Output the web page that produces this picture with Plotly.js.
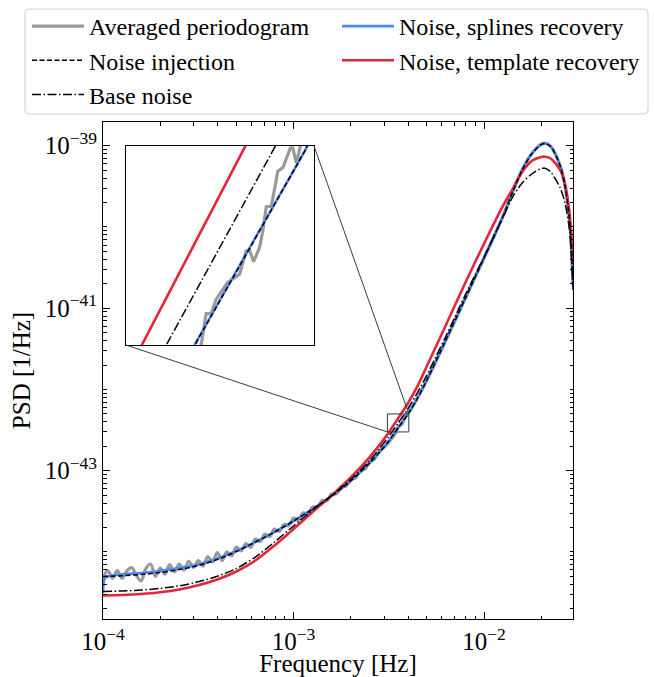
<!DOCTYPE html>
<html><head><meta charset="utf-8">
<script src="https://cdn.plot.ly/plotly-3.0.1.min.js"></script>
<style>html,body{margin:0;padding:0;background:#fff;} #chart{width:654px;height:677px;}</style>
</head><body><div id="chart"></div>
<script>
// ---- data ----
const freq = [1.000e-4, 1.259e-4, 1.585e-4, 1.995e-4, 2.512e-4, 3.162e-4, 3.981e-4, 5.012e-4, 6.310e-4, 7.943e-4,
  1.000e-3, 1.259e-3, 1.585e-3, 1.995e-3, 2.512e-3, 2.818e-3, 3.162e-3, 3.548e-3, 3.981e-3, 4.467e-3,
  5.012e-3, 6.310e-3, 7.943e-3, 1.000e-2, 1.259e-2, 1.413e-2, 1.585e-2, 1.778e-2, 1.995e-2, 2.089e-2,
  2.239e-2, 2.512e-2, 2.661e-2, 2.818e-2, 2.931e-2];
const injection = [4.99e-45, 5.10e-45, 5.28e-45, 5.58e-45, 6.08e-45, 6.81e-45, 8.07e-45, 1.013e-44, 1.326e-44, 1.760e-44,
  2.404e-44, 3.378e-44, 4.884e-44, 7.468e-44, 1.244e-43, 1.671e-43, 2.320e-43, 3.392e-43, 4.945e-43, 7.745e-43,
  1.307e-42, 4.061e-42, 1.298e-41, 4.148e-41, 1.364e-40, 2.693e-40, 5.022e-40, 7.904e-40, 1.034e-39, 1.064e-39,
  9.775e-40, 5.625e-40, 3.192e-40, 1.151e-40, 1.930e-41];
const baseNoise = [3.261e-45, 3.308e-45, 3.402e-45, 3.559e-45, 3.832e-45, 4.291e-45, 5.029e-45, 6.256e-45, 8.667e-45, 1.326e-44,
  2.086e-44, 3.284e-44, 4.952e-44, 7.794e-44, 1.335e-43, 1.862e-43, 2.628e-43, 3.886e-43, 5.747e-43, 9.10e-43,
  1.506e-42, 4.548e-42, 1.433e-41, 4.267e-41, 1.326e-40, 2.337e-40, 3.475e-40, 4.485e-40, 5.241e-40, 5.27e-40,
  4.746e-40, 3.016e-40, 1.971e-40, 8.667e-41, 1.675e-41];
const template = [2.911e-45, 2.952e-45, 3.037e-45, 3.187e-45, 3.450e-45, 3.886e-45, 4.580e-45, 5.747e-45, 7.847e-45, 1.200e-44,
  1.916e-44, 3.103e-44, 4.952e-44, 8.248e-44, 1.474e-43, 2.054e-43, 2.944e-43, 4.446e-43, 6.714e-43, 1.089e-42,
  1.944e-42, 6.213e-42, 2.014e-41, 6.221e-41, 1.826e-40, 2.931e-40, 4.746e-40, 6.481e-40, 7.261e-40, 7.323e-40,
  6.958e-40, 5.022e-40, 3.378e-40, 1.403e-40, 3.703e-41];
const splineFreq = [1.000e-4, 1.0046e-4, 1.0116e-4, 1.0233e-4, 1.0471e-4, 1.122e-4, 1.259e-4, 1.585e-4, 1.995e-4, 2.512e-4,
  3.162e-4, 3.981e-4, 5.012e-4, 6.310e-4, 7.943e-4, 1.000e-3, 1.259e-3, 1.585e-3, 1.995e-3, 2.512e-3,
  2.818e-3, 3.162e-3, 3.548e-3, 3.981e-3, 4.467e-3, 5.012e-3, 6.310e-3, 7.943e-3, 1.000e-2, 1.259e-2,
  1.413e-2, 1.585e-2, 1.778e-2, 1.995e-2, 2.089e-2, 2.239e-2, 2.512e-2, 2.661e-2, 2.818e-2, 2.931e-2];
const splines = [3.124e-45, 3.810e-45, 4.389e-45, 4.712e-45, 4.917e-45, 5.129e-45, 5.307e-45, 5.507e-45, 5.829e-45, 6.345e-45,
  7.006e-45, 8.305e-45, 1.027e-44, 1.326e-44, 1.760e-44, 2.404e-44, 3.378e-44, 4.884e-44, 7.468e-44, 1.244e-43,
  1.671e-43, 2.320e-43, 3.392e-43, 4.945e-43, 7.745e-43, 1.307e-42, 4.061e-42, 1.298e-41, 4.148e-41, 1.364e-40,
  2.693e-40, 5.022e-40, 7.904e-40, 1.034e-39, 1.064e-39, 9.775e-40, 5.625e-40, 3.192e-40, 1.151e-40, 1.930e-41];
const periodFreq = [1.000e-4, 1.059e-4, 1.122e-4, 1.189e-4, 1.259e-4, 1.334e-4, 1.413e-4, 1.496e-4, 1.585e-4, 1.679e-4,
  1.778e-4, 1.884e-4, 1.995e-4, 2.113e-4, 2.239e-4, 2.371e-4, 2.512e-4, 2.661e-4, 2.818e-4, 2.985e-4,
  3.162e-4, 3.350e-4, 3.548e-4, 3.758e-4, 3.981e-4, 4.217e-4, 4.467e-4, 4.732e-4, 5.012e-4, 5.309e-4,
  5.623e-4, 5.957e-4, 6.310e-4, 6.683e-4, 7.079e-4, 7.499e-4, 7.943e-4, 8.414e-4, 8.913e-4, 9.441e-4,
  1.000e-3, 1.059e-3, 1.122e-3, 1.189e-3, 1.259e-3, 1.334e-3, 1.413e-3, 1.496e-3, 1.585e-3, 1.679e-3,
  1.778e-3, 1.884e-3, 1.995e-3, 2.113e-3, 2.239e-3, 2.371e-3, 2.512e-3, 2.661e-3, 2.818e-3, 2.985e-3,
  3.441e-3, 3.449e-3, 3.473e-3, 3.497e-3, 3.521e-3, 3.578e-3, 3.637e-3, 3.670e-3, 3.687e-3, 3.708e-3,
  3.739e-3, 3.755e-3, 3.773e-3, 3.800e-3, 3.834e-3, 3.861e-3, 3.901e-3, 3.914e-3, 3.933e-3, 3.962e-3,
  4.074e-3, 5.012e-3, 6.310e-3, 7.943e-3, 1.000e-2, 1.259e-2, 1.413e-2, 1.585e-2, 1.778e-2, 1.995e-2,
  2.089e-2, 2.239e-2, 2.512e-2, 2.661e-2, 2.818e-2, 2.931e-2];
const periodogram = [4.78e-45, 5.89e-45, 4.75e-45, 5.88e-45, 4.74e-45, 5.83e-45, 6.42e-45, 5.16e-45, 4.39e-45, 6.26e-45,
  7.11e-45, 4.99e-45, 6.35e-45, 5.32e-45, 7.01e-45, 5.70e-45, 7.11e-45, 5.98e-45, 7.69e-45, 6.45e-45,
  7.85e-45, 6.71e-45, 8.79e-45, 7.52e-45, 9.85e-45, 7.83e-45, 1.004e-44, 8.94e-45, 1.151e-44, 1.033e-44,
  1.271e-44, 1.141e-44, 1.443e-44, 1.345e-44, 1.663e-44, 1.549e-44, 1.916e-44, 1.795e-44, 2.177e-44, 2.098e-44,
  2.617e-44, 2.473e-44, 3.016e-44, 2.931e-44, 3.575e-44, 3.545e-44, 4.297e-44, 4.261e-44, 5.166e-44, 5.196e-44,
  6.391e-44, 6.427e-44, 7.794e-44, 8.131e-44, 1.006e-43, 1.049e-43, 1.298e-43, 1.393e-43, 1.773e-43, 1.930e-43,
  2.939e-43, 2.992e-43, 3.251e-43, 3.251e-43, 3.373e-43, 3.524e-43, 3.597e-43, 3.819e-43, 3.828e-43, 3.715e-43,
  3.855e-43, 4.018e-43, 4.276e-43, 4.285e-43, 4.688e-43, 4.732e-43, 4.977e-43, 4.977e-43, 4.786e-43, 5.070e-43,
  5.42e-43, 1.31e-42, 4.05e-42, 1.30e-41, 4.15e-41, 1.37e-40, 2.70e-40, 5.05e-40, 7.95e-40, 1.045e-39,
  1.075e-39, 9.85e-40, 5.65e-40, 3.20e-40, 1.15e-40, 1.93e-41];

const xTickVals = [1e-4, 1e-3, 1e-2];
const xTickText = ['10<sup>\u22124</sup>', '10<sup>\u22123</sup>', '10<sup>\u22122</sup>'];
const yTickVals = [1e-43, 1e-41, 1e-39];
const yTickText = ['10<sup>\u221243</sup>', '10<sup>\u221241</sup>', '10<sup>\u221239</sup>'];
const xLimits = [1e-4, 2.931e-2];
const yLimits = [1.496e-45, 1.959e-39];
const insetX = [3.11e-3, 4.03e-3];
const insetY = [3.0e-43, 5.0e-43];
const legendNames = ['Averaged periodogram', 'Noise, splines recovery', 'Noise injection', 'Noise, template recovery', 'Base noise'];

// ---- build ----
const FONT = '"Liberation Serif", "Times New Roman", serif';
const L = Math.log10;
const xr = [L(xLimits[0]), L(xLimits[1])];
const yr = [L(yLimits[0]), L(yLimits[1])];
const insetDomX = [0.0489, 0.449];
const insetDomY = [0.5513, 0.9517];
const W = 654, H = 677, M = {l: 103, r: 81, t: 122, b: 58};
const pw = W - M.l - M.r, ph = H - M.t - M.b;
const toPaperX = p => (p - M.l) / pw;   // pixel -> paper (layout helpers only)
const toPaperY = p => (H - M.b - p) / ph;

function minorTicks(lo, hi, decades) {
  const out = [];
  for (let d = lo; d <= hi; d++) {
    for (let m = 1; m <= 9; m++) {
      if (m === 1 && !decades.includes(d)) continue;
      out.push(m * Math.pow(10, d));
    }
  }
  return out;
}
const minorX = minorTicks(-4, -2, []);
const minorY = minorTicks(-46, -39, [-44, -42, -40]);

const styles = {
  gray: {color: '#999999', width: 3.2},
  blue: {color: '#4a8af4', width: 2.6},
  red: {color: '#e3263a', width: 2.6},
  base: {color: '#000000', width: 1.5, dash: '9px,2.5px,1.5px,2.5px'},
  inj: {color: '#000000', width: 1.5, dash: '5px,2.5px'}
};

function makeTraces(xa, ya, inset) {
  const shp = inset ? 'linear' : 'spline';
  return [
    {x: periodFreq, y: periodogram, name: legendNames[0], legend: 'legend', legendrank: 1,
     line: Object.assign({shape: shp, smoothing: 1}, styles.gray)},
    {x: splineFreq, y: splines, name: legendNames[1], legend: 'legend2', legendrank: 1,
     line: Object.assign({shape: shp, smoothing: 0.8}, styles.blue)},
    {x: freq, y: template, name: legendNames[3], legend: 'legend2', legendrank: 2,
     line: Object.assign({shape: shp, smoothing: 0.8}, styles.red)},
    {x: freq, y: baseNoise, name: legendNames[4], legend: 'legend', legendrank: 3,
     line: Object.assign({shape: shp, smoothing: 0.8}, styles.base)},
    {x: freq, y: injection, name: legendNames[2], legend: 'legend', legendrank: 2,
     line: Object.assign({shape: shp, smoothing: 0.8}, styles.inj)}
  ].map(t => Object.assign(t, {type: 'scatter', mode: 'lines', xaxis: xa, yaxis: ya,
      showlegend: !inset, hoverinfo: 'skip', cliponaxis: true}));
}

const data = makeTraces('x', 'y', false).concat(makeTraces('x2', 'y2', true));

const px = v => (L(v) - xr[0]) / (xr[1] - xr[0]);
const py = v => (L(v) - yr[0]) / (yr[1] - yr[0]);
const boxLine = {color: '#3a3a3a', width: 1};

// rounded legend frame (paper coordinates)
const fx0 = toPaperX(25), fx1 = toPaperX(648), fy0 = toPaperY(114), fy1 = toPaperY(9);
const rx = 4 / pw, ry = 4 / ph;
const framePath = `M ${fx0 + rx},${fy1} L ${fx1 - rx},${fy1} Q ${fx1},${fy1} ${fx1},${fy1 - ry} ` +
  `L ${fx1},${fy0 + ry} Q ${fx1},${fy0} ${fx1 - rx},${fy0} L ${fx0 + rx},${fy0} Q ${fx0},${fy0} ${fx0},${fy0 + ry} ` +
  `L ${fx0},${fy1 - ry} Q ${fx0},${fy1} ${fx0 + rx},${fy1} Z`;

const shapes = [
  {type: 'rect', xref: 'paper', yref: 'paper', x0: px(insetX[0]), x1: px(insetX[1]), y0: py(insetY[0]), y1: py(insetY[1]), line: boxLine},
  {type: 'line', xref: 'paper', yref: 'paper', x0: insetDomX[0], y0: insetDomY[0], x1: px(insetX[0]), y1: py(insetY[0]), line: boxLine},
  {type: 'line', xref: 'paper', yref: 'paper', x0: insetDomX[1], y0: insetDomY[1], x1: px(insetX[1]), y1: py(insetY[1]), line: boxLine},
  {type: 'path', xref: 'paper', yref: 'paper', path: framePath, line: {color: '#d0d0d0', width: 1}, fillcolor: 'rgba(0,0,0,0)'}
];

const axisCommon = {
  type: 'log', showline: true, linecolor: '#000', linewidth: 1, mirror: 'allticks',
  ticks: 'inside', ticklen: 7, tickwidth: 1, tickcolor: '#000',
  showgrid: false, zeroline: false, tickfont: {size: 25, color: '#000', family: FONT},
  tickmode: 'array', automargin: false
};

const legendCommon = {
  orientation: 'v', xanchor: 'left', yanchor: 'top', y: toPaperY(4),
  itemwidth: 52, borderwidth: 0, bgcolor: 'rgba(0,0,0,0)',
  font: {size: 24, family: FONT, color: '#000'}, traceorder: 'normal', tracegroupgap: 0
};

const layout = {
  width: W, height: H,
  margin: {l: M.l, r: M.r, t: M.t, b: M.b, pad: 0, autoexpand: false},
  paper_bgcolor: '#ffffff', plot_bgcolor: '#ffffff',
  font: {family: FONT, size: 25, color: '#000'},
  showlegend: true,
  legend: Object.assign({}, legendCommon, {x: toPaperX(27)}),
  legend2: Object.assign({}, legendCommon, {x: toPaperX(337)}),
  xaxis: Object.assign({}, axisCommon, {
    range: xr, domain: [0, 1], anchor: 'y',
    tickvals: xTickVals, ticktext: xTickText,
    minor: {ticks: 'inside', ticklen: 3.5, tickwidth: 1, tickcolor: '#000', tickmode: 'array', tickvals: minorX, showgrid: false},
    title: {text: 'Frequency [Hz]', font: {size: 25, family: FONT, color: '#000'}, standoff: 10}
  }),
  yaxis: Object.assign({}, axisCommon, {
    range: yr, domain: [0, 1], anchor: 'x',
    tickvals: yTickVals, ticktext: yTickText,
    minor: {ticks: 'inside', ticklen: 3.5, tickwidth: 1, tickcolor: '#000', tickmode: 'array', tickvals: minorY, showgrid: false},
    title: {text: 'PSD [1/Hz]', font: {size: 25, family: FONT, color: '#000'}, standoff: 6}
  }),
  xaxis2: {type: 'log', range: [L(insetX[0]), L(insetX[1])], domain: insetDomX, anchor: 'y2',
    showline: true, mirror: true, linecolor: '#000', linewidth: 1, ticks: '', showticklabels: false,
    showgrid: false, zeroline: false},
  yaxis2: {type: 'log', range: [L(insetY[0]), L(insetY[1])], domain: insetDomY, anchor: 'x2',
    showline: true, mirror: true, linecolor: '#000', linewidth: 1, ticks: '', showticklabels: false,
    showgrid: false, zeroline: false},
  shapes: shapes
};

Plotly.newPlot('chart', data, layout, {staticPlot: true, displayModeBar: false});
</script>
</body></html>
